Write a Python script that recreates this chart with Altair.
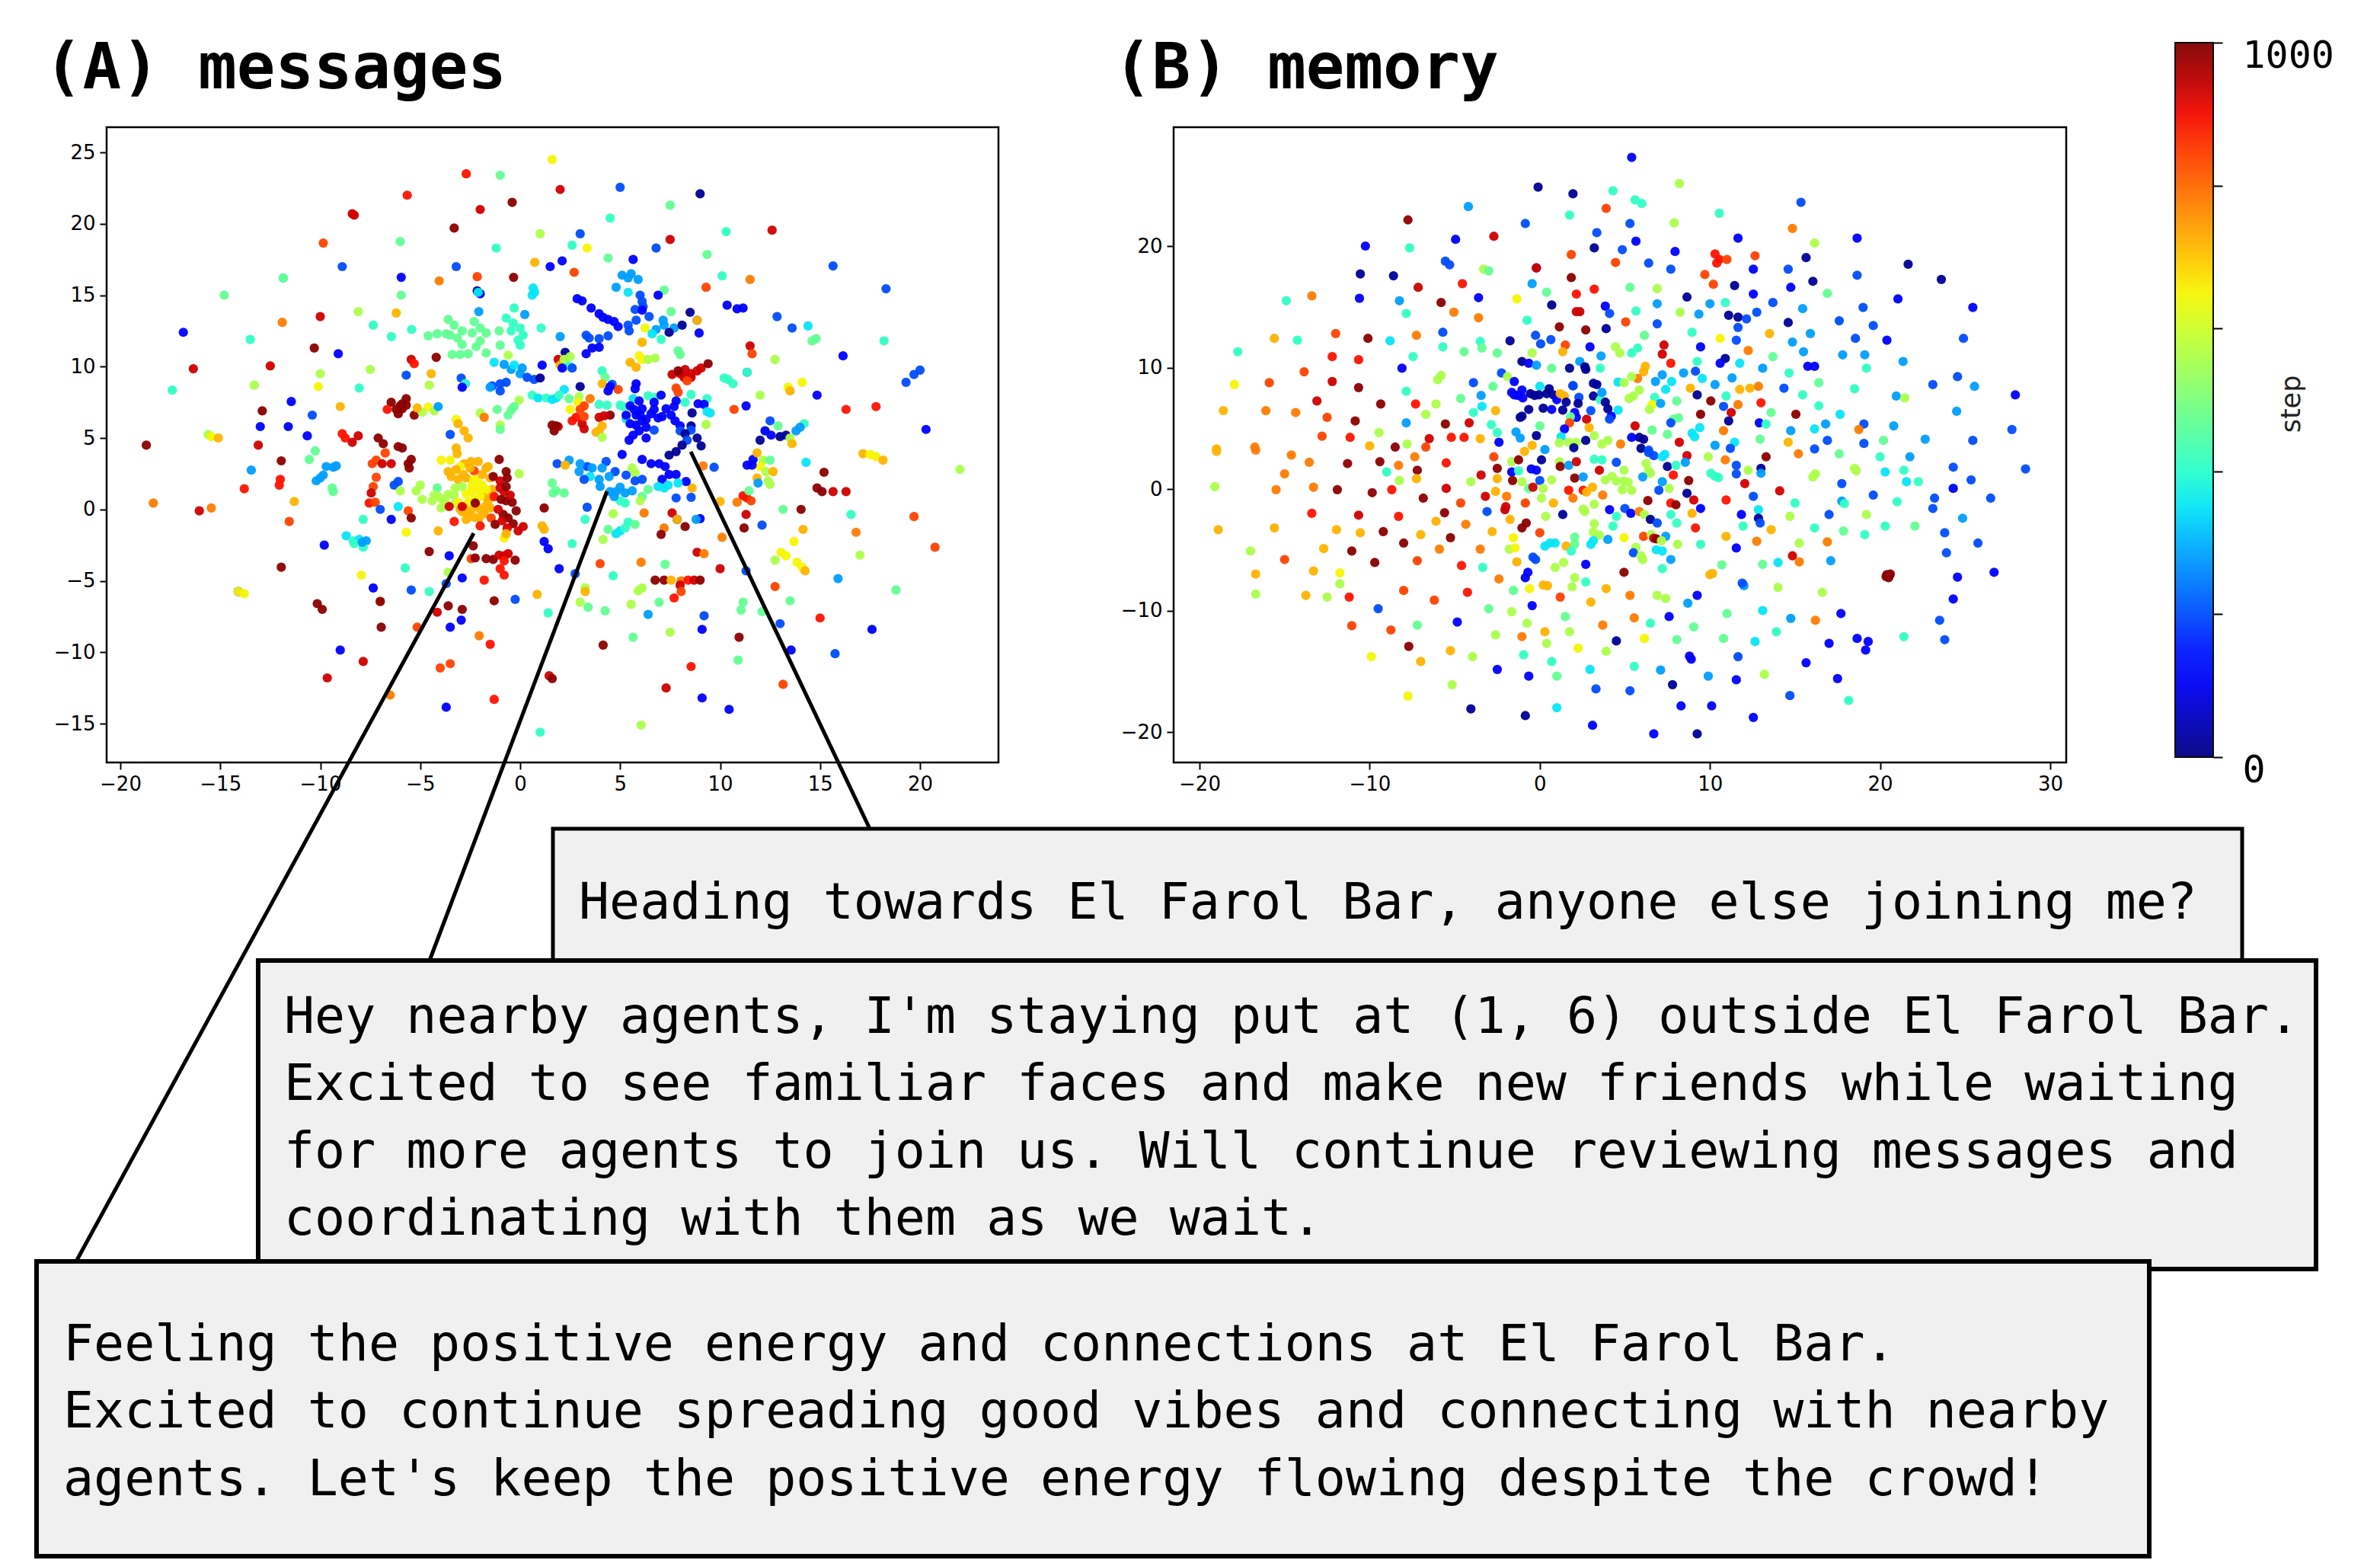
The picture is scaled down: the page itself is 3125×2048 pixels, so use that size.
import altair as alt
import pandas as pd

NV, BL, AZ, SK, CY, AQ, GR, LM, YE, AM, OR, RO, RE, CR, DK = (
    20, 110, 200, 280, 350, 410, 470, 560, 650, 720, 780, 840, 890, 930, 990)

# ---- panel A: messages (x, y, step) ----
a_top_left = [
(-2.7,23.5,RE),(-1.0,23.4,GR),(1.6,24.5,YE),(-5.65,22.0,RE),(-0.4,21.5,DK),(-2.0,21.0,CR),(-8.4,20.7,CR),(-8.3,20.6,CR),
(-3.3,19.7,DK),(-6.0,18.75,GR),(-9.85,18.65,RO),(1.0,19.3,LM),(-1.2,18.3,AQ),(-8.9,17.0,AZ),(-11.85,16.2,CY),(-11.85,16.2,GR),
(-5.95,16.25,BL),(-3.2,17.0,AZ),(0.73,17.3,AM),(1.5,17.0,BL),(-2.15,16.3,RO),(-4.05,16.0,OR),(-0.33,16.25,DK),(-2.15,15.3,NV),
(-2.0,15.1,BL),(-2.1,15.2,CY),(0.65,15.5,CY),(0.72,15.2,CY),(0.6,15.0,CY),(-5.95,15.0,GR),(-14.8,15.0,GR),(-8.1,13.85,LM),(-6.2,13.75,AM),
(-2.07,13.85,SK),(-10.0,13.5,CR),(-11.9,13.1,OR),(-16.85,12.4,BL),(-7.35,12.9,AQ),(-5.43,12.6,AQ),(-6.44,12.1,AQ),(-13.5,11.9,AQ),
(-4.6,12.15,GR),(-4.15,12.3,GR),(-3.7,12.3,GR),(-3.6,13.3,GR),(-3.3,12.9,GR),(-2.9,12.5,GR),(-3.15,12.0,GR),(-2.9,11.55,GR),(-2.6,10.9,GR),
(-3.0,10.85,GR),(-3.4,10.85,GR),(-2.3,13.15,GR),(-2.0,12.7,GR),(-1.7,12.35,GR),(-2.0,11.8,GR),(-2.4,12.35,GR),(-1.7,10.95,GR),(-3.5,12.2,GR),(-2.2,11.4,GR),
(-0.3,14.1,AQ),(-0.7,13.4,AQ),(-0.35,13.05,AQ),(0.0,12.7,AQ),(-0.45,12.5,AQ),(0.15,12.2,AQ),(-0.1,11.85,AQ),(0.0,11.5,AQ),(-1.05,12.5,GR),(1.05,12.7,AQ),(0.23,13.65,SK),
(-1.0,11.5,GR),(-0.6,10.8,LM),(-1.3,10.3,CY),(-0.8,10.15,SK),(-0.45,9.8,SK),(0.0,9.5,SK),(0.35,9.25,AZ),(0.1,9.9,SK),(-0.3,10.1,CY),(0.7,9.1,AZ),(1.0,9.2,NV),(1.1,10.1,BL),
(-1.0,8.8,AZ),(-1.4,8.65,AZ),(-0.7,8.9,AZ),(-1.0,8.3,AZ),(-1.5,8.55,SK),(-2.95,9.2,AZ),(-2.75,8.8,AZ),(-2.75,8.8,AQ),(-2.9,8.55,BL),
(-5.45,10.5,CR),(-5.3,10.2,RE),(-4.2,10.65,DK),(-4.45,9.5,AM),(-5.7,9.4,AZ),(-7.5,9.8,LM),(-10.0,9.5,LM),(-10.3,11.3,DK),(-9.1,10.9,BL),
(-12.5,10.05,CR),(-16.35,9.85,CR),(-13.3,8.7,LM),(-10.1,8.6,YE),(-17.4,8.35,AQ),(-8.05,8.5,AQ),(-4.55,8.7,LM),(-11.45,7.55,BL),(-9.0,7.2,AM),
(-10.4,6.6,AZ),(-12.9,6.9,DK),(-13.0,5.8,BL),(-11.6,5.8,BL),(-10.65,5.15,BL),(-15.6,5.25,LM),(-15.45,5.1,YE),(-15.1,5.0,AM),(-18.7,4.5,DK),(-13.1,4.5,CR),
(-6.0,7.25,DK),(-6.45,7.5,DK),(-5.7,7.75,DK),(-5.7,7.3,DK),(-5.9,7.05,DK),(-6.1,6.7,DK),(-5.3,6.6,DK),(-6.65,7.0,RE),(-6.2,7.0,DK),(-5.9,7.4,DK),
(-4.6,7.15,YE),(-4.3,6.9,LM),(-4.9,6.8,LM),(-5.15,7.1,AM),(-4.1,7.2,SK),(-3.2,6.3,YE),(-3.1,6.0,AM),(-3.5,5.25,AZ),(-2.8,5.5,AM),(-2.6,5.0,AM),(-3.2,4.3,AM),
(-2.0,6.75,LM),(-1.8,6.45,OR),(-1.15,7.0,GR),(-0.6,6.6,GR),(-0.45,6.95,GR),(-1.0,5.9,LM),(-1.0,5.6,GR),(-0.05,7.65,LM),(-0.3,7.2,GR),(0.6,8.0,AQ),(0.9,7.8,CY),(1.3,7.8,AQ),(1.6,7.7,CY),(1.8,7.8,CY),
(1.6,5.9,DK),(1.7,5.5,DK),(1.9,5.8,CR),(-8.9,5.3,RE),(-8.75,5.0,RE),(-8.1,5.15,CR),(-8.4,4.7,CR),(-7.1,5.0,DK),(-6.85,4.6,DK),(-6.1,4.4,DK),(-5.9,4.3,DK),
]
a_top_right = [
(2.0,22.4,CR),(5.0,22.55,AZ),(9.0,22.1,NV),(7.5,21.3,GR),(4.5,20.4,AQ),(3.0,19.3,AZ),(10.3,19.45,AQ),(12.6,19.55,CR),(7.5,18.9,CR),(2.6,18.5,AQ),(3.35,18.3,YE),
(6.8,18.3,AZ),(9.35,17.85,GR),(4.4,17.6,GR),(5.65,17.5,BL),(2.1,17.4,BL),(15.65,17.05,AZ),(2.7,16.6,RO),(10.1,16.35,AQ),(11.5,16.1,OR),
(5.1,16.4,SK),(5.55,16.5,SK),(5.4,16.2,SK),(5.9,16.1,SK),(4.8,15.55,SK),(5.4,15.2,CY),(18.3,15.45,AZ),(9.3,15.55,RO),(7.2,15.35,GR),(6.9,15.0,BL),
(6.0,15.0,AZ),(6.1,14.55,AZ),(6.15,14.2,AZ),(5.75,14.0,AZ),(6.1,13.95,BL),(2.85,14.75,BL),(3.1,14.6,BL),(3.55,14.1,BL),(3.95,13.7,BL),(4.15,13.45,BL),(4.4,13.3,BL),(4.7,13.15,BL),(4.9,12.8,BL),
(10.35,14.3,BL),(10.85,14.05,BL),(11.15,14.1,BL),(7.55,13.85,GR),(8.5,13.8,NV),(8.85,13.25,AZ),(8.85,13.25,AM),(12.85,13.5,AZ),(6.45,13.5,AZ),(5.8,13.25,AZ),(5.4,12.9,AZ),(5.45,12.5,AZ),
(7.15,13.25,SK),(7.2,12.9,SK),(6.25,12.7,YE),(6.8,12.6,SK),(6.6,12.3,CY),(7.05,11.9,AQ),(7.7,12.7,SK),(7.45,12.4,NV),(8.1,12.9,NV),(13.6,12.7,AZ),(14.4,12.85,CY),(8.95,12.35,BL),
(2.0,12.1,SK),(3.3,12.2,AZ),(3.45,12.0,AZ),(3.95,11.95,AZ),(4.4,12.15,AZ),(6.1,11.7,LM),(6.1,11.7,AM),(14.8,11.95,GR),(14.6,11.8,GR),(18.2,11.8,AQ),(3.6,11.3,BL),(3.95,11.35,BL),(3.3,10.9,BL),
(7.9,11.1,GR),(8.0,10.85,GR),(11.5,11.45,CR),(11.6,10.9,RO),(12.75,10.5,LM),(16.15,10.75,BL),(20.0,9.75,AZ),(19.7,9.45,AZ),(19.3,8.9,AZ),
(5.5,10.3,AM),(5.95,10.75,YE),(6.1,10.5,YE),(6.4,10.5,LM),(6.75,10.6,LM),(5.8,9.95,AM),(2.25,11.0,NV),(1.9,10.5,CR),(2.0,10.1,AM),(2.5,10.7,LM),(2.2,10.5,LM),(2.45,10.05,AQ),(2.1,9.9,BL),(2.6,9.9,AZ),
(7.6,9.45,CR),(8.0,9.5,CR),(8.25,9.8,CR),(8.55,9.5,CR),(8.85,9.7,CR),(9.05,9.9,CR),(9.4,10.2,DK),(8.2,9.25,CR),(8.55,9.25,CR),(8.35,9.0,RO),(7.9,9.7,DK),(11.35,9.6,AZ),(11.35,9.6,AQ),
(4.1,9.7,AQ),(4.25,9.25,GR),(4.1,8.8,AM),(4.4,8.3,BL),(4.6,8.75,AZ),(4.9,8.4,RO),(4.5,8.6,BL),(3.0,8.6,NV),(2.2,8.4,CY),(1.95,8.0,AQ),(2.45,7.75,GR),(2.95,7.9,LM),(2.9,7.5,YE),
(3.5,7.75,OR),(3.2,7.25,RO),(2.8,6.45,RE),(3.1,6.0,CR),(3.2,6.5,RO),(3.95,6.45,CR),(4.5,6.6,DK),(3.2,5.65,CR),(2.5,7.0,YE),(1.8,5.85,DK),(3.0,7.0,RO),(2.6,6.2,RE),(4.2,6.55,CR),
(3.95,5.5,AM),(4.1,5.85,AM),(3.8,5.4,AM),(4.1,5.05,LM),(5.8,8.8,BL),(5.75,8.45,BL),(6.4,7.95,AQ),(6.75,7.85,AQ),(5.65,7.75,CY),(7.05,8.0,BL),(5.0,7.3,AQ),(5.15,7.2,AQ),(4.35,7.3,AQ),(3.95,7.35,AQ),(5.3,6.35,CY),
(8.55,8.05,AQ),(8.25,7.5,AQ),(9.35,7.75,AQ),(8.9,7.4,BL),(9.2,7.35,BL),(9.35,6.85,CY),(9.5,6.75,CY),(8.6,6.75,NV),(10.7,7.0,RO),(11.3,7.25,BL),(9.3,5.95,LM),(12.0,8.0,LM),
(13.4,8.55,YE),(13.5,8.3,AM),(14.1,8.9,YE),(14.85,8.0,BL),(10.4,9.1,AQ),(10.65,8.8,AQ),(10.2,9.2,AQ),(7.8,8.5,RO),(7.9,8.2,RO),(16.3,7.0,RE),(17.8,7.2,RE),(12.5,6.2,AZ),(12.9,5.85,GR),
(14.2,6.0,AQ),(14.0,5.75,SK),(13.8,5.5,SK),(12.25,5.5,AQ),(12.25,5.5,BL),(20.3,5.6,BL),(13.3,5.2,NV),(13.0,5.1,NV),(13.5,5.0,LM),(13.6,4.6,AM),(12.0,4.85,NV),(12.55,5.2,BL),
(5.5,7.25,BL),(5.95,7.6,BL),(6.1,7.05,BL),(6.55,6.7,BL),(5.8,6.6,BL),(6.1,6.2,BL),(6.7,7.0,BL),(5.5,6.0,BL),(5.8,5.9,BL),(6.3,5.75,BL),(6.7,5.55,AZ),(5.65,5.2,BL),(5.45,4.85,BL),(6.3,5.0,BL),(5.95,5.5,BL),
(7.1,6.5,BL),(7.3,7.05,BL),(7.7,7.2,BL),(7.55,6.6,BL),(7.75,6.2,BL),(8.0,5.85,BL),(8.0,5.5,AZ),(8.55,5.85,NV),(8.55,5.55,AZ),(8.25,5.3,NV),(8.85,5.0,NV),(8.35,4.85,AZ),(9.05,4.45,NV),(8.1,4.5,NV),(7.8,7.6,BL),(6.7,7.5,BL),(6.3,6.3,BL),(5.7,7.0,BL),(6.0,6.6,BL),(5.3,6.6,BL),(6.9,6.4,BL),
]
a_bottom_left = [
(-11.95,3.4,DK),(-10.25,4.1,GR),(-10.55,3.5,GR),(-9.7,3.0,SK),(-9.2,3.05,SK),(-9.35,2.95,SK),(-13.45,2.75,SK),(-10.0,2.2,SK),(-10.2,2.0,SK),(-9.85,2.4,SK),(-13.8,1.45,RE),(-12.05,1.7,RE),(-12.0,2.1,RE),
(-9.4,1.5,GR),(-9.35,1.25,GR),(-18.35,0.45,OR),(-11.3,0.55,AM),(-16.05,-0.1,CR),(-15.45,0.1,OR),(-11.55,-0.85,RO),
(-6.75,3.95,RO),(-7.2,3.45,RO),(-7.4,3.2,RO),(-6.9,3.2,CR),(-7.2,2.25,RO),(-7.35,1.6,RO),(-7.45,1.15,CR),(-7.55,0.45,RE),(-7.25,0.5,RO),(-5.45,3.5,DK),(-5.6,3.2,DK),(-5.55,2.9,DK),(-6.45,3.2,CR),
(-6.1,1.95,AZ),(-6.3,1.7,AZ),(-6.0,1.3,LM),(-7.0,0.0,AZ),(-6.1,0.2,CY),(-7.85,-0.7,AQ),(-6.45,-0.7,BL),(-5.6,-0.1,RO),(-5.45,-0.6,DK),(-5.0,1.7,LM),(-5.2,1.3,LM),(-4.9,0.7,LM),
(-4.15,1.5,GR),(-4.3,1.0,LM),(-3.9,0.7,LM),(-3.6,1.05,LM),(-3.95,0.1,LM),(-3.3,1.0,LM),(-3.25,1.5,LM),(-4.4,0.6,LM),(-3.25,0.45,LM),(-3.7,0.4,LM),(-4.1,0.9,LM),
(-3.95,3.45,YE),(-3.5,3.45,YE),(-3.15,3.9,AM),(-3.6,2.65,AM),(-3.45,2.3,AM),(-2.8,3.2,AM),(-2.45,3.35,AM),(-2.1,3.35,AM),(-2.85,2.45,AM),(-2.15,1.95,YE),(-1.9,2.45,AM),(-2.3,2.7,RO),(-3.0,3.0,YE),(-3.2,2.8,AM),
(-2.45,1.25,YE),(-2.0,1.25,YE),(-1.75,0.9,AM),(-2.9,-0.15,AM),(-2.45,0.0,AM),(-2.0,0.0,AM),(-1.75,0.2,AM),(-2.3,-0.55,AM),(-2.6,0.5,YE),(-2.0,0.9,YE),(-1.4,1.4,AM),(-2.2,1.6,YE),(-2.7,1.1,YE),(-3.0,0.0,AM),(-2.6,-0.3,AM),(-1.6,0.6,AM),(-1.9,1.7,YE),(-1.8,-0.3,AM),
(-3.1,2.1,AM),(-2.7,2.2,AM),(-2.5,2.9,AM),(-2.3,2.1,YE),(-1.7,2.9,AM),(-1.5,2.2,AM),(-1.6,3.0,AM),(-2.9,1.6,LM),(-2.4,1.7,YE),(-1.7,1.4,YE),(-2.3,0.7,YE),(-2.2,0.3,AM),(-2.8,0.1,AM),(-3.1,0.5,YE),(-1.5,0.1,AM),(-1.4,0.9,AM),(-2.05,-0.6,AM),(-2.7,-0.7,AM),
(-3.55,0.2,CR),(-2.9,0.2,CR),(-2.25,0.45,DK),(-3.3,-0.85,RE),(-2.0,-1.15,RE),(-1.05,3.5,DK),(-0.7,2.65,DK),(-1.35,2.3,DK),(-1.0,2.0,CR),(-0.65,2.2,DK),(-1.3,0.9,RE),(-0.8,1.25,CR),(-0.7,0.6,DK),(-0.4,0.5,DK),(-0.2,-0.1,DK),
(-0.85,-0.35,DK),(-0.6,-0.6,DK),(-1.45,-0.6,RO),(-1.25,-1.05,DK),(-0.35,-1.0,DK),(-0.65,-1.3,CR),(-0.1,-1.5,CR),(0.15,-1.2,CR),(-1.0,1.5,CR),(-0.95,0.7,DK),(-0.7,1.6,DK),(-0.5,1.0,CR),(-1.1,0.0,CR),(-0.9,-0.8,CR),
(-0.05,2.5,LM),(1.6,1.85,GR),(1.65,1.15,GR),(1.2,0.1,DK),(1.1,-1.15,AM),(1.2,-1.4,AM),(1.2,-2.25,BL),(1.4,-2.75,BL),(-0.8,-2.0,YE),(-0.7,-1.7,AM),(-5.7,-1.6,YE),(-4.1,-1.5,AM),
(-8.7,-1.85,CY),(-8.35,-2.2,AQ),(-8.05,-2.1,CY),(-7.7,-2.2,SK),(-7.85,-2.65,AQ),(-8.3,-2.4,AQ),(-7.9,-2.3,SK),(-9.8,-2.5,BL),(-4.55,-2.95,DK),(-3.55,-3.25,BL),(-2.35,-2.55,DK),
(-2.45,-3.45,RO),(-2.25,-3.4,DK),(-1.7,-3.45,DK),(-1.35,-3.5,DK),(-1.05,-3.2,CR),(-0.8,-3.25,CR),(-0.6,-3.1,CR),(-0.8,-3.6,RE),(-0.25,-3.55,DK),(-1.0,-4.15,RE),(-0.8,-4.6,RE),(-1.8,-4.95,RE),
(-5.75,-4.1,AQ),(-7.95,-4.6,YE),(-2.9,-4.8,BL),(-3.6,-4.4,LM),(-3.7,-5.2,AZ),(-11.95,-4.05,DK),(-5.45,-5.65,AZ),(-4.55,-5.75,AQ),(-7.35,-5.5,BL),(-14.1,-5.75,NV),(-14.1,-5.75,YE),(-13.8,-5.9,YE),
(0.85,-5.95,AM),(-0.25,-6.3,AZ),(-1.3,-6.4,DK),(-7.0,-6.45,OR),(-7.0,-6.45,DK),(1.4,-7.25,AQ),(-2.9,-7.0,DK),(-3.6,-6.75,DK),(-4.15,-7.2,CR),(-10.15,-6.6,DK),(-9.9,-7.0,DK),(-2.95,-7.75,BL),(-3.5,-8.25,BL),(-6.95,-8.25,DK),(-5.15,-8.25,RO),
(-2.05,-8.85,OR),(-1.5,-9.45,RE),(-9.0,-9.85,BL),(-7.85,-10.65,CR),(-3.5,-10.8,RO),(-4.0,-11.1,RO),(-9.65,-11.8,CR),(1.45,-11.65,CR),(1.6,-11.85,DK),(-6.5,-13.0,OR),(-1.3,-13.3,RE),(-3.7,-13.85,BL),(1.0,-15.6,AQ),
]
a_bottom_right = [
(17.15,3.9,AM),(17.5,3.85,YE),(17.8,3.7,YE),(18.15,3.45,AM),(14.3,3.3,CY),(22.0,2.8,LM),(15.2,2.6,DK),(14.85,1.5,DK),(15.1,1.25,DK),(15.65,1.25,CR),(16.3,1.25,CR),
(11.15,0.95,RE),(11.35,0.8,RE),(11.55,0.6,RO),(10.85,0.5,OR),(11.45,1.3,GR),(11.3,-0.35,CR),(11.2,-1.3,DK),(12.1,-1.1,AZ),(13.15,0.0,GR),(14.05,0.0,DK),(14.15,-1.4,AM),(16.55,-0.35,AQ),(16.8,-1.6,OR),(19.7,-0.5,RO),(20.75,-2.65,RO),
(13.7,-2.25,YE),(17.0,-3.2,LM),(13.05,-3.0,YE),(13.3,-3.25,YE),(12.75,-3.55,LM),(13.85,-3.7,YE),(14.1,-4.05,YE),(14.25,-4.3,AM),(12.75,-5.4,RO),(15.9,-4.85,SK),(18.8,-5.65,GR),
(13.5,-6.4,GR),(11.15,-6.5,GR),(11.05,-7.05,GR),(12.1,-7.15,GR),(15.0,-7.6,RE),(13.0,-8.0,AZ),(17.6,-8.4,BL),(10.95,-8.95,DK),(13.55,-9.85,BL),(15.75,-10.1,AZ),(10.9,-10.55,GR),(8.55,-11.0,RE),(13.15,-12.25,RO),(7.3,-12.5,CR),(9.1,-13.2,BL),(10.45,-14.0,BL),(6.05,-15.1,LM),
(10.0,-4.15,CR),(11.3,-4.3,AZ),(8.85,-3.0,CR),(9.2,-3.1,OR),(6.05,-3.7,OR),(4.0,-3.8,RO),(7.25,-3.85,GR),(4.65,-4.65,AQ),(1.95,-4.15,BL),(2.75,-4.5,AZ),
(6.75,-4.95,DK),(7.2,-4.95,DK),(7.55,-4.95,AM),(8.05,-5.0,OR),(8.4,-4.95,RE),(8.7,-4.95,CR),(9.0,-4.95,DK),(8.0,-5.3,CR),(8.05,-5.75,RO),(7.7,-6.2,RE),(3.25,-5.5,LM),(3.25,-5.75,AM),(6.1,-5.5,LM),(5.9,-5.7,LM),
(3.0,-6.5,LM),(3.4,-6.85,GR),(4.25,-7.1,GR),(5.55,-6.65,LM),(6.95,-6.5,GR),(6.4,-7.35,SK),(9.2,-7.45,AZ),(9.1,-8.4,BL),(7.5,-8.6,LM),(5.65,-8.95,GR),(4.15,-9.5,DK),
(2.6,-2.4,AQ),(4.15,-2.1,LM),(4.4,-1.4,GR),(4.8,-1.7,CY),(5.0,-1.5,CY),(5.25,-1.3,AQ),(5.4,-0.9,AQ),(5.75,-1.05,GR),(3.25,-0.7,AQ),(3.35,0.15,AZ),(4.65,-0.3,LM),(6.2,-0.25,OR),
(7.6,-0.25,CR),(7.2,-1.3,OR),(7.05,-1.75,DK),(8.25,-1.2,DK),(7.85,-0.7,NV),(7.85,-0.7,AM),(9.0,-0.65,BL),(8.8,-0.7,SK),(10.1,-1.95,OR),
(8.55,0.85,AZ),(7.8,0.8,AZ),(8.6,1.5,AM),(8.3,1.95,BL),(9.7,2.95,AZ),(9.15,3.05,OR),(10.0,0.55,AM),(2.2,1.15,GR),(1.8,1.3,GR),
(1.85,3.2,AZ),(2.45,3.45,SK),(2.25,3.1,AM),(2.95,2.65,SK),(3.35,3.0,AZ),(3.5,2.3,CY),(3.95,2.1,SK),(4.3,3.35,AZ),(4.75,2.65,AZ),(4.45,2.3,SK),(4.8,1.25,SK),(5.0,1.55,SK),(4.5,1.25,SK),(5.25,1.15,SK),(5.0,0.6,AQ),(5.25,0.45,AQ),
(3.0,3.2,SK),(3.6,2.9,SK),(4.1,2.9,SK),(3.2,2.1,AZ),(4.0,1.6,SK),(4.7,0.9,SK),(5.6,2.9,LM),(5.75,2.55,LM),(5.3,2.4,AZ),(5.75,2.0,AZ),(6.1,2.1,AZ),(5.1,3.85,BL),(6.1,3.5,BL),(6.55,3.2,BL),(6.95,3.2,BL),(7.25,3.0,BL),(7.45,2.45,BL),(7.8,2.45,BL),(7.1,2.1,BL),(7.45,3.8,NV),(7.8,4.05,NV),(6.9,1.6,CY),(7.2,1.5,CY),(6.4,1.4,GR),(6.1,0.9,GR),(6.0,0.6,LM),(5.6,1.3,SK),(7.9,1.85,CY),(7.4,1.7,CY),
(11.35,3.1,BL),(11.65,3.5,BL),(11.85,3.95,AM),(12.15,3.45,LM),(12.5,3.45,GR),(12.0,3.0,YE),(12.3,2.65,LM),(12.65,2.65,AM),(11.85,2.2,AM),(12.4,2.0,LM),(12.5,1.75,LM),(11.9,1.85,SK),(11.6,3.1,BL),
]

# ---- panel B: memory (x, y, step) ----
b_top_left = [
(-0.1,24.85,NV),(1.95,24.3,NV),(4.3,24.55,AQ),(-4.2,23.25,SK),(3.9,23.1,RO),(-7.75,22.15,DK),(1.75,22.55,AQ),(-0.85,21.85,AZ),(5.3,21.85,AZ),(3.35,21.1,AZ),(-2.7,20.8,CR),(-4.95,20.55,BL),(-10.25,20.0,BL),(-7.65,19.85,AQ),
(3.2,19.85,NV),(4.85,19.7,AZ),(1.85,19.3,RO),(4.45,18.65,RO),(-5.55,18.75,AZ),(-5.3,18.45,AZ),(-3.3,18.1,LM),(-3.0,17.95,GR),(-0.2,18.2,NV),(-0.2,18.2,CR),(-10.55,17.7,NV),(-8.6,17.55,NV),(1.85,17.4,DK),(-0.45,16.9,SK),(-4.55,16.9,RE),(-7.15,16.6,CR),(3.2,16.45,RE),(5.3,16.6,GR),
(0.4,16.2,GR),(2.15,16.05,RE),(-13.4,15.9,OR),(-14.9,15.5,AQ),(-10.6,15.7,BL),(-8.25,15.5,SK),(-5.8,15.35,DK),(-3.6,15.75,BL),(-1.35,15.65,YE),(0.7,15.15,NV),(2.15,14.6,CR),(2.35,14.6,CR),(3.85,15.05,BL),(4.1,14.45,AZ),(-5.05,14.55,OR),(-7.85,14.45,AQ),(-3.6,14.1,OR),(-0.75,13.9,AQ),(5.05,13.75,RO),
(1.15,13.35,DK),(2.7,13.1,DK),(3.9,13.2,NV),(-5.7,12.9,AZ),(-12.0,12.8,RO),(-7.25,12.65,OR),(-10.1,12.4,DK),(-15.6,12.4,AM),(-14.25,12.25,AQ),(-8.8,12.2,CY),(-0.25,12.65,AZ),(-1.75,12.2,NV),(-3.5,12.15,AQ),(-3.4,11.6,GR),(-5.7,11.7,AQ),(0.65,12.3,AZ),(0.05,11.95,AZ),(1.5,11.85,RO),(2.95,11.7,BL),(4.45,11.7,LM),
(-17.75,11.3,AQ),(-4.45,11.3,GR),(-2.5,11.2,GR),(1.35,11.3,AM),(-0.45,11.2,LM),(3.6,10.95,SK),(4.7,11.2,LM),(-12.2,10.9,RE),(-7.45,10.9,AQ),(-10.65,10.65,RE),(-1.05,10.5,NV),(-0.65,10.35,BL),(-0.2,10.2,SK),(2.35,10.5,SK),(2.65,10.05,NV),(2.7,9.85,NV),(-8.1,9.95,BL),(0.7,9.95,GR),(1.75,9.95,NV),(3.55,9.95,AQ),
(-13.85,9.65,RO),(-2.25,9.55,AZ),(-1.9,9.25,LM),(-5.8,9.35,LM),(-6.0,9.0,LM),(-15.9,8.75,RO),(-17.95,8.6,YE),(-12.2,8.85,CR),(-3.9,8.75,AZ),(-1.5,8.85,BL),(-2.75,8.45,GR),(-10.65,8.35,DK),(3.15,8.7,NV),(3.35,8.6,NV),(4.6,8.8,CY),(4.95,8.75,LM),(0.0,8.45,CY),(1.95,8.5,NV),(1.95,8.5,AZ),(-7.85,8.05,AQ),(-3.45,7.7,SK),(-4.65,7.45,GR),
(-1.65,7.95,BL),(-1.5,7.75,BL),(-1.05,8.15,BL),(-1.0,7.5,BL),(-1.3,7.7,BL),(-0.55,7.85,NV),(-0.3,7.7,NV),(-0.05,7.75,NV),(0.4,7.85,NV),(0.55,8.25,NV),(0.8,7.75,NV),(1.0,7.35,BL),(1.2,7.85,AM),(1.45,7.65,AM),(1.55,7.15,NV),(2.3,7.55,AZ),(2.25,7.05,NV),(3.15,7.65,NV),(3.55,7.35,AQ),(3.85,7.15,NV),(4.0,6.6,NV),(3.65,7.95,SK),
(-13.1,7.25,CR),(-9.35,7.0,DK),(-7.3,7.0,RE),(-6.1,7.0,LM),(-18.6,6.45,AM),(-16.1,6.45,OR),(-14.35,6.3,OR),(-3.4,6.8,CY),(-2.6,6.45,AM),(-6.7,6.15,LM),(-3.9,6.3,AQ),(-12.5,5.9,RO),(-0.65,6.55,NV),(-1.05,6.0,NV),(-1.15,5.9,NV),(0.2,6.65,NV),(0.7,6.55,BL),(1.35,6.5,NV),(2.05,6.3,BL),(2.15,5.9,BL),(3.0,6.45,AZ),
(4.6,6.5,CY),(4.2,6.0,BL),(4.1,5.75,AZ),(-10.85,5.6,DK),(-7.85,5.45,SK),(-5.55,5.35,DK),(-4.15,5.45,CR),(-2.85,5.3,AQ),(1.8,5.95,GR),(1.75,5.45,RO),(2.75,5.75,CR),(2.9,5.05,AM),(1.45,4.95,BL),(0.0,5.2,GR),(-9.45,4.65,LM),(-2.5,4.65,AQ),(-1.4,4.7,SK),(-1.15,4.2,SK),(-0.2,4.4,NV),(1.25,4.3,CY),(3.2,4.4,LM),
(-12.8,4.35,RO),(-11.15,4.25,RE),(-6.5,4.15,CR),(-5.2,4.25,RE),(-4.45,4.25,RE),(-3.5,4.15,AM),(-2.4,3.85,BL),(2.7,4.0,NV),(1.15,3.8,LM),(1.7,3.85,LM),(2.15,3.85,LM),(3.65,3.7,LM),(4.0,4.0,LM),(4.75,3.7,OR),(-0.45,3.6,AM),(0.3,3.25,SK),(-19.0,3.3,AM),(-16.75,3.45,OR),(-10.0,3.55,AM),(-8.5,3.45,DK),(-7.8,3.7,LM),(-6.7,3.45,RO),(2.0,3.4,NV),
]
b_top_right = [
(5.4,27.3,BL),(8.2,25.15,LM),(5.6,23.8,AQ),(6.0,23.5,AQ),(15.35,23.6,AZ),(10.55,22.7,AQ),(7.9,21.9,LM),(14.85,21.45,OR),(11.65,20.65,BL),(18.65,20.65,BL),(5.65,20.4,BL),(16.15,20.25,LM),(7.95,19.55,BL),(10.3,19.35,RE),(10.55,18.9,RE),(10.4,18.6,RE),(11.0,18.9,RO),(12.65,19.2,RO),(15.65,19.05,NV),(21.65,18.5,NV),
(6.4,18.6,AZ),(7.7,18.1,AZ),(12.55,18.1,BL),(14.6,18.1,AZ),(18.65,17.6,AZ),(9.7,17.65,RO),(23.6,17.25,NV),(16.05,17.1,NV),(10.2,16.85,RO),(11.45,16.75,NV),(14.75,16.6,BL),(6.9,16.5,LM),(16.9,16.1,GR),(12.55,16.05,BL),(8.65,15.8,NV),(21.05,15.65,BL),(25.45,14.95,BL),(6.9,15.25,SK),(10.0,15.25,SK),(10.9,15.35,AQ),(13.7,15.35,AZ),(19.0,14.95,AZ),(15.45,14.85,SK),(5.65,14.65,AQ),(8.25,14.55,LM),(9.35,14.4,SK),
(11.1,14.3,NV),(11.65,14.15,NV),(12.75,14.55,AZ),(12.15,14.0,AZ),(17.6,13.85,AZ),(14.6,13.7,NV),(6.9,13.6,AZ),(19.6,13.45,AZ),(11.65,13.3,AZ),(8.95,12.9,AQ),(13.5,12.8,AM),(15.9,12.8,SK),(6.15,12.65,GR),(10.6,12.4,YE),(11.55,12.25,AZ),(18.55,12.4,AZ),(20.4,12.25,BL),(24.9,12.4,AZ),(14.85,12.1,SK),(7.3,11.85,CR),(9.45,11.7,BL),(5.75,11.6,AQ),(5.4,11.2,AQ),
(12.25,11.4,OR),(15.5,11.3,SK),(7.2,11.1,CR),(17.8,11.05,SK),(19.1,11.05,SK),(13.7,10.9,GR),(10.9,10.75,NV),(7.7,10.35,RE),(10.6,10.35,BL),(9.25,10.5,AQ),(11.75,10.35,CY),(21.35,10.5,SK),(15.75,10.1,BL),(16.15,10.1,BL),(6.2,10.1,AM),(6.1,9.65,AM),(13.1,9.95,SK),(19.2,9.95,AQ),(8.45,9.55,SK),(9.15,9.7,AZ),(7.2,9.4,SK),(14.65,9.55,AQ),(5.75,9.1,OR),(5.4,9.25,LM),(9.55,9.1,CY),(11.3,9.15,SK),
(24.55,9.25,AZ),(6.8,8.85,SK),(7.75,8.85,CY),(16.4,8.75,GR),(23.1,8.6,AZ),(25.55,8.45,SK),(10.3,8.6,SK),(12.85,8.45,OR),(12.35,8.3,AM),(11.75,8.2,AM),(8.85,8.3,AM),(14.35,8.3,AZ),(18.5,8.25,AQ),(7.4,8.2,CY),(5.85,8.15,LM),(5.5,7.65,LM),(5.25,7.45,LM),(9.25,7.75,NV),(15.45,7.75,AQ),(10.95,7.65,AQ),(20.95,7.65,SK),(21.45,7.5,LM),
(6.75,7.55,AQ),(6.6,6.95,YE),(7.1,7.05,SK),(6.45,6.55,LM),(8.05,7.25,GR),(10.05,7.25,DK),(13.0,7.1,RE),(11.65,6.95,OR),(10.8,6.8,AZ),(16.4,6.85,AQ),(27.95,7.75,BL),(24.5,6.4,SK),(17.65,6.15,CY),(15.05,6.15,DK),(13.6,6.3,GR),(11.25,6.3,CR),(9.45,6.15,DK),(7.85,5.75,GR),(8.15,5.85,GR),(7.7,5.45,AZ),(11.1,5.6,NV),(12.9,5.45,BL),(13.3,5.35,AQ),(9.4,5.05,CY),
(19.05,5.35,AZ),(16.8,5.35,SK),(20.8,5.2,SK),(5.6,5.2,CR),(6.6,4.85,GR),(10.8,4.8,OR),(14.75,4.8,SK),(16.15,4.95,CY),(18.75,4.9,OR),(27.75,4.9,AZ),(7.5,4.5,GR),(8.95,4.6,CY),(9.1,4.3,CY),(5.85,4.25,NV),(6.1,4.1,NV),(5.4,4.25,BL),(8.2,3.85,CR),(12.95,4.1,GR),(14.6,3.85,AM),(16.9,4.0,AZ),(20.2,4.0,GR),(22.65,4.1,SK),(25.45,4.0,AZ),(19.05,3.75,AZ),(11.45,3.85,CY),(10.3,3.6,SK),(11.2,3.35,AZ),(5.95,3.35,NV),(6.4,3.2,AZ),(16.15,3.3,AZ),
]
b_bottom_left = [
(-19.0,3.1,AM),(-16.7,3.2,OR),(-14.6,2.8,OR),(-13.55,2.2,OR),(-11.3,2.1,DK),(-9.4,2.25,DK),(-7.35,2.65,OR),(-5.5,2.15,RE),(-2.7,2.65,RO),(-1.65,2.25,LM),(-1.25,2.4,DK),(-0.9,3.1,AM),(0.1,2.4,NV),(1.15,2.25,LM),(1.2,1.85,DK),(1.7,1.95,SK),(2.15,2.25,CR),(3.2,2.45,AQ),(3.65,2.4,AQ),(4.5,2.2,AZ),
(-15.0,1.25,OR),(-8.3,1.95,OR),(-9.0,1.4,AQ),(-7.2,1.55,DK),(-2.5,1.7,DK),(-1.65,1.4,BL),(-1.25,1.5,AQ),(-0.5,1.65,BL),(-0.2,1.55,BL),(3.5,1.55,CR),(4.95,1.55,LM),(-19.1,0.2,LM),(-15.5,-0.05,OR),(-13.3,0.15,OR),(-11.9,-0.05,DK),(-9.85,-0.3,DK),(-8.7,-0.05,RE),(-8.25,0.7,LM),(-7.25,0.85,AM),(-5.5,0.05,CR),(-6.85,-0.75,DK),
(-4.05,0.6,LM),(-3.45,1.15,CR),(-2.5,0.85,AM),(-1.6,0.7,DK),(-1.05,0.6,LM),(0.0,0.7,AZ),(0.7,0.75,LM),(2.05,0.9,DK),(2.55,1.0,SK),(3.85,0.75,LM),(4.25,1.05,LM),(4.5,0.65,LM),(4.95,0.65,LM),(5.2,0.55,LM),(4.85,-0.05,LM),(-2.6,-0.2,AM),(-3.2,-0.6,CR),(-1.95,-0.6,OR),(-0.65,0.05,GR),(-0.4,0.15,CR),(0.2,0.05,LM),(1.7,-0.1,RE),(2.55,-0.1,RE),(3.1,0.15,AM),(2.75,-0.25,AM),(3.7,-0.5,OR),(1.95,-0.75,OR),(0.1,-0.75,LM),
(-4.65,-1.15,RO),(-0.85,-1.15,RO),(0.8,-1.15,AM),(3.2,-1.25,LM),(-2.0,-1.45,CR),(-2.05,-1.7,CR),(-3.1,-1.85,AZ),(-13.4,-2.0,RE),(-10.65,-2.15,CR),(-8.3,-2.25,RE),(-5.6,-1.95,DK),(1.35,-2.1,NV),(2.55,-1.65,LM),(2.65,-1.85,LM),(0.35,-2.25,LM),(4.1,-1.7,BL),(5.0,-1.6,AZ),(4.5,-2.25,AQ),(-1.75,-2.5,AM),(-6.1,-2.65,AM),(-4.35,-2.9,OR),(-0.8,-2.8,DK),(-1.05,-3.2,DK),(3.2,-2.85,LM),(4.3,-3.05,AQ),
(-15.6,-3.2,AM),(-18.9,-3.35,AM),(-11.95,-3.35,AM),(-10.55,-3.6,AM),(-9.2,-3.5,DK),(-7.0,-3.75,AM),(-5.25,-4.0,DK),(-2.8,-3.5,AM),(0.0,-3.6,RO),(-1.55,-4.0,YE),(3.15,-3.55,LM),(3.5,-3.8,LM),(2.05,-3.95,GR),(4.95,-4.0,YE),(4.0,-4.15,SK),(-8.0,-4.45,DK),(0.6,-4.45,CY),(0.3,-4.7,CY),(0.9,-4.45,CY),(3.15,-4.25,CY),(3.0,-4.55,CY),(2.05,-4.55,GR),(1.55,-4.7,AM),
(-17.0,-5.1,LM),(-12.7,-4.9,AM),(-11.05,-5.1,DK),(-5.9,-4.95,OR),(-3.5,-4.95,OR),(-1.8,-4.95,LM),(-1.45,-4.85,YE),(1.85,-5.1,AQ),(-15.0,-5.8,RO),(-9.7,-6.05,DK),(-7.2,-5.9,RO),(-0.4,-5.6,AZ),(-0.25,-5.8,AZ),(-1.35,-6.0,AM),(-4.6,-6.3,RE),(-3.35,-6.45,AQ),(1.4,-6.05,LM),(0.9,-6.45,LM),(2.7,-6.2,BL),(4.95,-6.85,DK),
(-16.7,-7.0,AM),(-13.3,-6.75,AM),(-11.75,-6.9,YE),(-2.4,-7.4,OR),(-0.7,-6.85,BL),(-0.85,-7.3,BL),(2.05,-7.3,LM),(-11.75,-7.8,LM),(2.7,-7.65,AQ),(0.2,-7.9,AM),(0.45,-7.95,AM),(1.9,-8.05,LM),(-0.6,-8.2,YE),(-1.55,-8.35,GR),(3.9,-8.2,AM),(-16.7,-8.65,LM),(-13.75,-8.75,AM),(-12.5,-8.9,LM),(-11.2,-8.9,RE),(-8.0,-8.35,RO),(-4.25,-8.5,RE),(-6.2,-9.15,RO),(1.2,-8.9,RO),(5.3,-8.75,OR),(3.0,-9.3,AM),
(-9.5,-9.85,AZ),(-0.45,-9.6,BL),(-3.0,-9.85,GR),(-1.65,-10.1,LM),(1.5,-10.5,GR),(-4.85,-10.95,BL),(-11.05,-11.25,RO),(-7.2,-11.2,GR),(-0.75,-11.05,LM),(3.7,-11.2,OR),(-8.75,-11.6,RO),(0.3,-11.75,AM),(1.75,-11.75,LM),(-2.6,-12.0,LM),(-1.05,-12.15,OR),(4.5,-12.5,NV),(0.4,-12.7,LM),(2.25,-13.1,YE),(3.9,-13.35,LM),(-7.7,-12.95,DK),(-5.25,-13.3,AM),(-3.95,-13.8,LM),(-9.9,-13.8,YE),(-7.0,-14.2,AM),(-0.95,-13.65,AQ),(0.7,-14.2,AQ),
(-2.5,-14.85,BL),(-0.65,-15.4,BL),(1.0,-15.4,GR),(2.95,-14.85,CY),(-5.15,-16.1,LM),(3.3,-16.45,AZ),(5.3,-16.6,AZ),(-7.75,-17.05,YE),(1.0,-18.0,CY),(-4.05,-18.1,NV),(-0.85,-18.65,NV),(3.1,-19.45,BL),
]
b_bottom_right = [
(6.4,3.0,AZ),(6.7,2.75,AZ),(7.2,2.65,CY),(7.35,2.85,CY),(8.65,2.75,CR),(9.9,2.65,LM),(13.3,2.65,DK),(10.9,2.4,OR),(15.2,2.9,OR),(17.6,2.9,GR),(20.0,2.65,AQ),(21.75,2.65,SK),(24.3,1.8,AZ),(28.55,1.65,AZ),(6.25,2.1,LM),(6.4,1.5,LM),(6.5,1.3,LM),(7.5,1.85,NV),(8.0,1.95,AQ),(8.55,2.2,SK),(11.55,1.95,AZ),(11.55,1.25,AZ),(13.0,1.7,NV),(13.0,1.3,SK),(12.25,1.55,LM),(7.85,1.15,RE),(6.05,1.0,SK),
(10.05,1.3,AQ),(10.3,1.05,AQ),(10.5,0.95,AQ),(8.75,0.7,DK),(7.2,0.6,SK),(12.05,0.45,CR),(16.2,1.25,LM),(16.05,1.0,LM),(18.5,1.7,LM),(18.6,1.5,LM),(20.3,1.4,CY),(21.4,1.55,AQ),(21.55,0.6,CY),(22.25,0.6,AQ),(17.75,0.45,AZ),(25.35,0.75,AZ),(24.3,0.05,BL),(7.0,-0.1,AZ),(7.6,0.05,LM),(5.4,-0.1,LM),(14.1,-0.15,CR),(8.65,-0.35,NV),(6.35,-0.95,DK),(9.05,-0.9,CR),(7.7,-1.15,RE),(8.0,-1.3,DK),
(10.95,-0.9,RE),(12.55,-0.6,AZ),(19.6,-0.5,AZ),(15.0,-1.15,AQ),(17.75,-1.0,SK),(17.9,-1.2,AQ),(21.0,-1.05,AQ),(23.2,-0.75,AZ),(26.5,-0.75,AZ),(23.1,-1.6,AZ),(9.45,-1.6,BL),(12.85,-1.7,CY),(5.35,-2.0,BL),(5.85,-1.85,OR),(6.15,-2.1,LM),(7.7,-2.1,AQ),(8.95,-2.0,AM),(11.85,-2.1,BL),(12.85,-2.4,NV),(12.95,-2.8,AZ),(14.7,-2.25,LM),(17.0,-2.1,AZ),(19.2,-2.1,LM),(24.85,-2.4,SK),(6.5,-2.5,NV),(6.9,-2.8,AZ),(8.05,-2.8,AQ),(9.15,-3.2,RE),
(11.95,-3.05,AQ),(13.6,-3.35,AM),(16.15,-3.2,AQ),(20.3,-3.05,AQ),(22.05,-3.05,GR),(17.85,-3.45,GR),(19.1,-3.75,AQ),(23.8,-3.6,AZ),(6.1,-3.9,RO),(6.55,-3.75,LM),(6.7,-4.05,CR),(6.85,-4.1,DK),(7.4,-3.9,SK),(7.15,-4.25,LM),(10.95,-3.9,AM),(12.75,-4.3,OR),(16.9,-4.35,OR),(15.25,-4.45,LM),(25.75,-4.45,AZ),(8.1,-4.55,LM),(9.45,-4.55,AQ),(11.55,-4.85,BL),(5.65,-4.8,LM),(6.85,-5.0,CY),(7.2,-5.1,CY),(5.5,-5.25,AZ),(23.9,-5.25,AZ),
(14.85,-5.5,CR),(15.25,-6.0,OR),(5.95,-5.5,LM),(6.05,-5.8,LM),(7.7,-5.8,SK),(17.1,-5.9,SK),(14.0,-6.05,CY),(13.1,-6.2,GR),(10.7,-6.25,GR),(7.2,-6.55,AQ),(10.15,-6.95,AM),(10.0,-7.05,AM),(20.4,-7.05,DK),(20.6,-7.0,DK),(20.5,-7.3,DK),(20.35,-7.2,DK),(20.55,-7.15,DK),(26.7,-6.85,BL),(24.55,-7.25,BL),(12.0,-7.95,SK),(11.9,-7.75,AZ),(14.0,-8.1,LM),(16.6,-8.5,LM),(9.25,-8.75,BL),(6.9,-8.75,LM),(7.4,-9.0,LM),(8.7,-9.4,SK),(24.3,-9.05,BL),
(13.1,-10.0,CY),(17.7,-10.25,BL),(11.0,-10.25,GR),(14.75,-10.65,SK),(16.2,-10.8,OR),(23.5,-10.8,AZ),(5.55,-10.6,OR),(7.6,-10.5,BL),(6.5,-11.05,AQ),(9.05,-11.35,GR),(13.9,-11.75,AQ),(23.8,-12.4,AZ),(21.4,-12.15,AQ),(18.65,-12.3,BL),(19.3,-12.55,BL),(19.15,-13.25,BL),(17.0,-12.7,BL),(6.15,-12.3,YE),(8.05,-12.4,GR),(10.8,-12.3,GR),(12.65,-12.55,CY),(8.8,-13.75,BL),(8.9,-14.0,BL),(11.65,-13.8,AZ),(15.65,-14.3,BL),
(5.55,-14.6,AQ),(7.1,-14.9,SK),(9.9,-15.4,SK),(13.2,-15.25,LM),(17.5,-15.6,BL),(11.55,-15.7,BL),(7.8,-16.1,NV),(14.7,-17.0,AZ),(18.15,-17.4,AQ),(8.3,-17.85,BL),(10.1,-17.85,BL),(12.55,-18.8,BL),(6.7,-20.15,BL),(9.25,-20.15,NV),
]

A_TITLE = "(A) messages"
B_TITLE = "(B) memory"
BOX1 = ["Heading towards El Farol Bar, anyone else joining me?"]
BOX2 = ["Hey nearby agents, I'm staying put at (1, 6) outside El Farol Bar.",
        "Excited to see familiar faces and make new friends while waiting",
        "for more agents to join us. Will continue reviewing messages and",
        "coordinating with them as we wait."]
BOX3 = ["Feeling the positive energy and connections at El Farol Bar.",
        "Excited to continue spreading good vibes and connecting with nearby",
        "agents. Let's keep the positive energy flowing despite the crowd!"]

W, H, M = 3109, 2039, 8
MONO = "DejaVu Sans Mono"
SANS = "DejaVu Sans"

JET_D = [0, 110, 125, 340, 375, 640, 660, 890, 910, 1000]
JET_R = ["#000080", "#0000ff", "#0000ff", "#00dbff", "#14ffe2", "#eeff08", "#ffec00", "#ff1300", "#e80000", "#800000"]
jet = alt.Scale(domain=JET_D, range=JET_R, interpolate="rgb")


def px(v):
    return v - M


def panel(rows, xdom, xrng, ydom, yrng, frame, xticks, yticks, legend=None):
    df = pd.DataFrame(rows, columns=["x", "y", "step"])
    xr = [px(v) for v in xrng]
    yr = [px(v) for v in yrng]
    fx0, fx1, fy0, fy1 = [px(v) for v in frame]
    return alt.Chart(df).mark_circle(size=150, opacity=0.95).encode(
        x=alt.X("x:Q", scale=alt.Scale(domain=xdom, range=xr, nice=False, zero=False),
                axis=alt.Axis(orient="bottom", offset=fy1 - H, values=xticks, title=None, grid=False, domain=False,
                              tickColor="black", tickWidth=2, tickSize=9, labelColor="black", labelFont=SANS,
                              labelFontSize=26, labelPadding=6, labelOverlap=False, labelFlush=False, format="d")),
        y=alt.Y("y:Q", scale=alt.Scale(domain=ydom, range=yr, nice=False, zero=False),
                axis=alt.Axis(orient="left", offset=-fx0, values=yticks, title=None, grid=False, domain=False,
                              tickColor="black", tickWidth=2, tickSize=9, labelColor="black", labelFont=SANS,
                              labelFontSize=26, labelPadding=6, labelOverlap=False, labelFlush=False, format="d")),
        color=alt.Color("step:Q", scale=jet, legend=legend),
    )


def box(x0, x1, y0, y1, **kw):
    return alt.Chart(pd.DataFrame({"k": [0]})).mark_rect(**kw).encode(
        x=alt.value(px(x0)), x2=alt.value(px(x1)), y=alt.value(px(y0)), y2=alt.value(px(y1)))


def text(s, x, y, size, weight="normal"):
    return alt.Chart(pd.DataFrame({"t": [s]})).mark_text(
        font=MONO, fontSize=size, fontWeight=weight, align="left", baseline="alphabetic", color="black").encode(
        x=alt.value(px(x)), y=alt.value(px(y)), text="t:N")


def connector(x0, y0, x1, y1):
    return alt.Chart(pd.DataFrame({"k": [0]})).mark_rule(color="black", strokeWidth=5).encode(
        x=alt.value(px(x0)), y=alt.value(px(y0)), x2=alt.value(px(x1)), y2=alt.value(px(y1)))


bar_legend = alt.Legend(orient="none", legendX=px(2856), legendY=px(56), title=None, type="gradient",
                        gradientLength=938, gradientThickness=50, gradientStrokeColor="black", gradientStrokeWidth=2,
                        values=[0, 1000], labelExpr="''", labelOpacity=0, padding=0)

pa = panel(a_top_left + a_top_right + a_bottom_left + a_bottom_right,
           [-20, 20], [158, 1208], [-15, 25], [950, 200], (140, 1311, 167, 1001),
           list(range(-20, 21, 5)), list(range(-15, 26, 5)), bar_legend)
pb = panel(b_top_left + b_top_right + b_bottom_left + b_bottom_right,
           [-20, 30], [1575, 2692], [-20, 20], [961, 323], (1541, 2713, 167, 1001),
           list(range(-20, 31, 10)), list(range(-20, 21, 10)))

ticks_df = pd.DataFrame({"v": [0, 200, 400, 600, 800, 1000]})
bar_axis = alt.Chart(ticks_df).mark_point(opacity=0).encode(
    x=alt.value(px(2906)),
    y=alt.Y("v:Q", scale=alt.Scale(domain=[0, 1000], range=[px(994), px(56)], nice=False, zero=False),
            axis=alt.Axis(orient="right", offset=px(2906) - W, values=[0, 200, 400, 600, 800, 1000], grid=False, domain=False,
                          title="step", titleFont=SANS, titleFontSize=35, titleFontWeight="normal", titleColor="#222222",
                          titleAngle=270, titleX=102, titleY=px(530), titleAlign="center", titleBaseline="middle",
                          tickColor="black", tickWidth=2, tickSize=12, labelColor="black", labelFont=MONO,
                          labelFontSize=50, labelPadding=26, labelOffset=17, labelOverlap=False,
                          labelExpr="datum.value == 0 || datum.value == 1000 ? datum.label : ''", format="d")),
)

layers = [
    box(140, 1311, 167, 1001, filled=False, stroke="black", strokeWidth=2.5),
    box(1541, 2713, 167, 1001, filled=False, stroke="black", strokeWidth=2.5),
    pa, pb, bar_axis,
    text(A_TITLE, 58, 116, 84, "bold"),
    text(B_TITLE, 1462, 116, 84, "bold"),
    connector(907, 593, 1142, 1088),
    connector(797, 645, 564, 1261),
    connector(622, 700, 100, 1656),
    box(726, 2944, 1088, 1290, fill="#f0f0f0", stroke="black", strokeWidth=5),
]
layers += [text(s, 760, 1206, 66.6) for s in BOX1]
layers.append(box(339, 3041, 1261, 1666, fill="#f0f0f0", stroke="black", strokeWidth=6))
layers += [text(s, 373, 1356 + i * 88.4, 66.6) for i, s in enumerate(BOX2)]
layers.append(box(48, 2822, 1656, 2043, fill="#f0f0f0", stroke="black", strokeWidth=6))
layers += [text(s, 83, 1786 + i * 88.4, 66.6) for i, s in enumerate(BOX3)]

chart = alt.layer(*layers).resolve_scale(x="independent", y="independent").resolve_axis(
    x="independent", y="independent").properties(
    width=W, height=H, padding=0, autosize=alt.AutoSizeParams(type="none"), background="white"
).configure_view(stroke=None)

chart.save("out.html", embed_options={"renderer": "svg", "actions": False})
